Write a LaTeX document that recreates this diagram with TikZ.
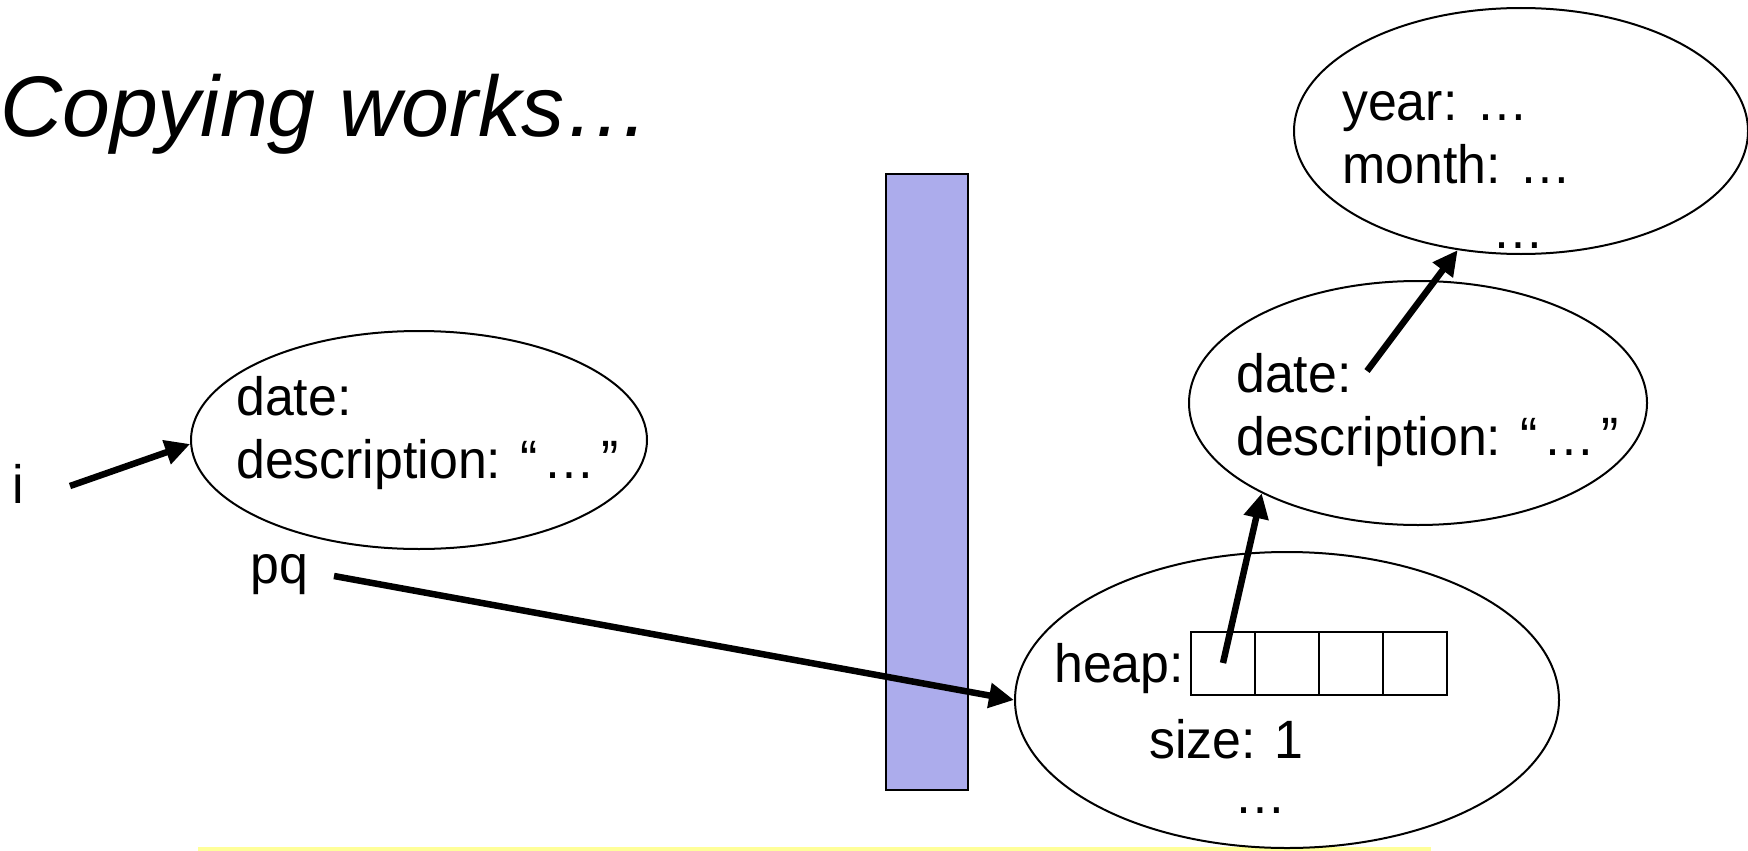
\documentclass[tikz,border=0pt]{standalone}
\usepackage{fontspec}
\setmainfont{Liberation Sans}[FakeStretch=0.96]
\newfontfamily\titlefont{Liberation Sans}
\usetikzlibrary{shapes.geometric,arrows.meta}
\definecolor{barfill}{RGB}{172,172,236}
\definecolor{hilite}{RGB}{255,255,153}
\newcommand{\qdots}{“\kern6pt…\kern6pt”}
\tikzset{
  obj/.style={ellipse, draw, line width=2pt, inner sep=0pt},
  txt/.style={anchor=base west, inner sep=0pt, font=\fontsize{54}{63}\selectfont},
  arr/.style={line width=6.5pt, -{Triangle[length=25pt,width=24pt]}},
  cell/.style={draw, line width=2pt, minimum width=64pt, minimum height=63pt, inner sep=0pt}
}
\begin{document}
\begin{tikzpicture}[x=1pt,y=-1pt]
\useasboundingbox (0,0) rectangle (1748,851);
% title
\node[anchor=base west, inner sep=0pt, font=\titlefont\fontsize{86}{94}\selectfont\itshape] (title) at (0,136) {Copying works…};
% bar
\node[draw, fill=barfill, line width=1.5pt, minimum width=82pt, minimum height=616pt, inner sep=0pt] (bar) at (927,482) {};
% highlight line
\fill[hilite] (198,847) rectangle (1431,851);
% left ellipse
\node[obj, minimum width=456pt, minimum height=218pt] (L) at (419,440) {};
\node[txt] (Ldate) at (236,415) {date:};
\node[txt] (Ldesc) at (236,478) {description: \qdots};
\node[txt] (i) at (12,503) {i};
\node[txt] (pq) at (250,583) {pq};
% top right ellipse
\node[obj, minimum width=454pt, minimum height=246pt] (T) at (1521,131) {};
\node[txt] (year) at (1342,120) {year: …};
\node[txt] (month) at (1342,183) {month: …};
\node[txt] (Tdots) at (1492,248) {…};
% middle right ellipse
\node[obj, minimum width=458pt, minimum height=244pt] (M) at (1418,403) {};
\node[txt] (Mdate) at (1236,392) {date:};
\node[txt] (Mdesc) at (1236,455) {description: \qdots};
% heap ellipse
\node[obj, minimum width=544pt, minimum height=296pt] (H) at (1287,700) {};
\node[txt] (heap) at (1054,682) {heap:};
\node[cell] (c1) at (1223,663) {};
\node[cell] (c2) at (1287,663) {};
\node[cell] (c3) at (1351,663) {};
\node[cell] (c4) at (1415,663) {};
\node[txt] (size) at (1149,758) {size: 1};
\node[txt] (Hdots) at (1234,813) {…};
% arrows
\coordinate (iTail) at (70,486);
\coordinate (pqTail) at (334,576);
\coordinate (dTail) at (1367,371);
\draw[arr] (iTail) -- (L.181.5);
\draw[arr] (pqTail) -- (H.west);
\draw[arr] (c1.center) -- (M.210);
\draw[arr] (dTail) -- (T.242);
\end{tikzpicture}
\end{document}
